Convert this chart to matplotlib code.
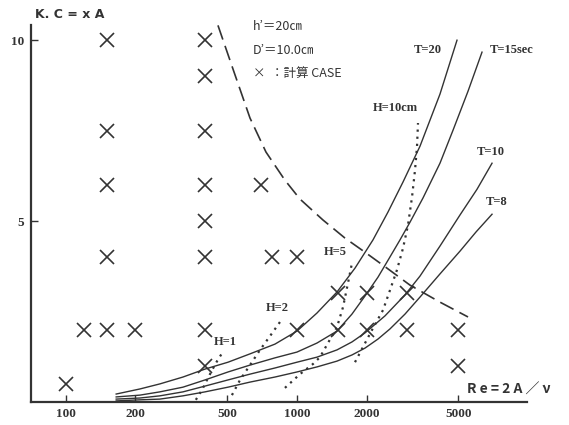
import matplotlib
matplotlib.use("Agg")
import matplotlib.pyplot as plt

# calculation cases (Re, K.C)
case_re = [100, 120, 150, 200, 400, 1000, 1500, 2000, 3000, 5000,
           150, 400, 780, 1000,
           150, 400, 700,
           150, 400,
           150, 400,
           400, 400,
           1500, 2000, 3000,
           400, 5000]
case_kc = [0.5, 2, 2, 2, 2, 2, 2, 2, 2, 2,
           4, 4, 4, 4,
           6, 6, 6,
           7.5, 7.5,
           10, 10,
           9, 5,
           3, 3, 3,
           1, 1]

# solid curves, one per wave period T
t20_re = [165, 209, 255, 321, 400, 503, 626, 803, 1000, 1221, 1490, 1783, 2133, 2477, 2877, 3408, 4159, 4928]
t20_kc = [0.22, 0.36, 0.50, 0.69, 0.91, 1.10, 1.33, 1.60, 1.96, 2.46, 3.04, 3.70, 4.48, 5.25, 6.08, 7.07, 8.51, 10.0]

t15_re = [165, 209, 255, 321, 400, 503, 626, 803, 1000, 1221, 1490, 1730, 1970, 2242, 2527, 2792,
          3085, 3512, 4159, 4735, 5500, 6323]
t15_kc = [0.14, 0.19, 0.28, 0.41, 0.61, 0.83, 1.02, 1.22, 1.38, 1.63, 1.96, 2.43, 2.93, 3.45, 4.01, 4.48,
          4.97, 5.64, 6.60, 7.51, 8.59, 9.67]

t10_re = [165, 209, 255, 321, 400, 503, 626, 803, 1000, 1221, 1490, 1730, 1970, 2404, 2935, 3408,
          4159, 5078, 6016, 6987]
t10_kc = [0.08, 0.11, 0.17, 0.28, 0.44, 0.61, 0.77, 0.94, 1.10, 1.24, 1.44, 1.66, 1.91, 2.38, 2.96, 3.48,
          4.31, 5.17, 5.88, 6.60]

t8_re = [165, 209, 255, 321, 400, 503, 626, 803, 1000, 1221, 1490, 1730, 1970, 2242, 2527, 2935, 3408,
         4159, 5078, 5957, 6987]
t8_kc = [0.03, 0.06, 0.08, 0.17, 0.28, 0.41, 0.55, 0.69, 0.83, 0.97, 1.13, 1.30, 1.49, 1.74, 2.02, 2.43, 2.90,
         3.54, 4.17, 4.70, 5.19]

# dashed boundary line
dash_re = [455, 534, 626, 734, 887, 1030, 1296, 1614, 1970, 2452, 3085, 4159, 5500]
dash_kc = [10.41, 9.12, 7.85, 6.91, 6.13, 5.61, 5.03, 4.53, 4.14, 3.70, 3.23, 2.76, 2.35]

# dotted lines of constant wave height H
h1_re = [365, 388, 408, 429, 451, 474]
h1_kc = [0.06, 0.33, 0.61, 0.88, 1.13, 1.35]
h2_re = [523, 567, 626, 692, 764, 844]
h2_kc = [0.19, 0.61, 1.02, 1.44, 1.82, 2.21]
h5_re = [887, 1030, 1173, 1258, 1362, 1490, 1582, 1663, 1730]
h5_kc = [0.39, 0.77, 1.05, 1.24, 1.63, 2.07, 2.62, 3.29, 3.84]
h10_re = [1783, 1931, 2112, 2357, 2527, 2709, 2877, 3024, 3147, 3243, 3307, 3341]
h10_kc = [1.10, 1.52, 1.99, 2.54, 3.09, 3.65, 4.25, 4.89, 5.66, 6.41, 7.04, 7.71]

x_ticks = [100, 200, 500, 1000, 2000, 5000]
y_ticks = [5, 10]

ink = "#333333"
cjk = ["Noto Sans CJK JP", "DejaVu Sans"]
serif = ["Liberation Serif", "DejaVu Serif"]

fig = plt.figure(figsize=(5.69, 4.25), dpi=100)
ax = fig.add_axes([31 / 569, 23 / 425, 496 / 569, 377 / 425])

for re, kc in [(t20_re, t20_kc), (t15_re, t15_kc), (t10_re, t10_kc), (t8_re, t8_kc)]:
    ax.plot(re, kc, color=ink, lw=1.0)

ax.plot(dash_re, dash_kc, color=ink, lw=1.2, dashes=(9, 4))

for re, kc in [(h1_re, h1_kc), (h2_re, h2_kc), (h5_re, h5_kc), (h10_re, h10_kc)]:
    ax.plot(re, kc, color=ink, lw=1.6, linestyle=(0, (1, 2.2)))

ax.plot(case_re, case_kc, linestyle="none", marker="x", markersize=10,
        markeredgewidth=1.2, color=ink, clip_on=False)

ax.set_xscale("log")
ax.set_xlim(70.6, 9900)
ax.set_ylim(0, 10.42)
ax.set_xticks(x_ticks)
ax.set_xticklabels([str(v) for v in x_ticks], family=serif, fontsize=9.5, fontweight="bold")
ax.xaxis.set_minor_locator(matplotlib.ticker.NullLocator())
ax.set_yticks(y_ticks)
ax.set_yticklabels([str(v) for v in y_ticks], family=serif, fontsize=9.5, fontweight="bold")
ax.tick_params(direction="in", length=5, width=1.0, colors=ink, pad=4)
ax.tick_params(axis="y", pad=5)

for side in ["top", "right"]:
    ax.spines[side].set_visible(False)
for side in ["left", "bottom"]:
    ax.spines[side].set_linewidth(1.6)
    ax.spines[side].set_color(ink)

# curve labels
lab = dict(color=ink, fontsize=9, family=serif, fontweight="bold", ha="center", va="center")
ax.text(3690, 9.72, "T=20", **lab)
ax.text(6840, 9.72, "T=15sec", **{**lab, "ha": "left"})
ax.text(6920, 6.91, "T=10", **lab)
ax.text(7350, 5.52, "T=8", **lab)
ax.text(2655, 8.12, "H=10cm", **lab)
ax.text(1462, 4.14, "H=5", **lab)
ax.text(819, 2.60, "H=2", **lab)
ax.text(488, 1.66, "H=1", **lab)

fig.text(35 / 569, 1 - 14 / 425, "K. C = x A", fontsize=9, family="DejaVu Sans",
         fontweight="bold", color=ink, va="center")
fig.text(253 / 569, 1 - 26 / 425, "h’＝20㎝", fontsize=9, family=cjk, color=ink, va="center")
fig.text(253 / 569, 1 - 51 / 425, "D’＝10.0㎝", fontsize=9, family=cjk, color=ink, va="center")
fig.text(253 / 569, 1 - 73 / 425, "×  ：計算 CASE", fontsize=9, family=cjk, color=ink, va="center")
fig.text(467 / 569, 1 - 390 / 425, "R e = 2 A ／ ν", fontsize=10, family=cjk,
         fontweight="bold", color=ink, va="center")

fig.savefig("out.png", dpi=100)
